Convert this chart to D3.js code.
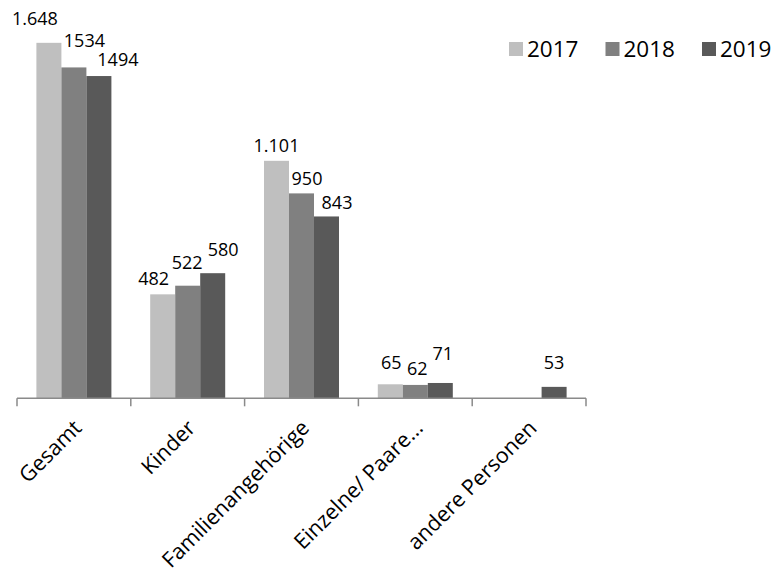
<!DOCTYPE html>
<html>
<head>
<meta charset="utf-8">
<script src="https://cdn.jsdelivr.net/npm/d3@7"></script>
<style>
  html, body { margin: 0; padding: 0; background: #fff; }
  svg text { font-family: "Open Sans", "DejaVu Sans", sans-serif; fill: #000; }
</style>
</head>
<body>
<svg id="chart" width="774" height="578"></svg>
<script>
// Categories along the x axis
const categories = ["Gesamt", "Kinder", "Familienangehörige", "Einzelne/ Paare...", "andere Personen"];
// Series (years)
const years = ["2017", "2018", "2019"];
// Values per year, in category order (null = no bar)
const values2017 = [1648, 482, 1101, 65, null];
const values2018 = [1534, 522, 950, 62, null];
const values2019 = [1494, 580, 843, 71, 53];

const seriesValues = { "2017": values2017, "2018": values2018, "2019": values2019 };
const colors = { "2017": "#bfbfbf", "2018": "#808080", "2019": "#595959" };

// 2017 labels use a dot as thousands separator, the other years are plain
const deLocale = d3.formatLocale({ decimal: ",", thousands: ".", grouping: [3], currency: ["", " €"] });
const labelFormat = { "2017": deLocale.format(",d"), "2018": d3.format("d"), "2019": d3.format("d") };

// Hand-placed nudges for the value labels: [dx, gap above bar top]
const labelNudge = {
  "2017": [[-14, 18], [-9, 9], [0, 9], [1, 15], null],
  "2018": [[10.5, 20.5], [-0.5, 16.5], [5.5, 8], [2, 10], null],
  "2019": [[19, 10.5], [10.5, 17.5], [10.5, 7.5], [2.5, 22.5], [0, 17.5]]
};

const svg = d3.select("#chart");

const baseY = 398.3;
const x = d3.scaleBand().domain(categories).range([17, 586]).paddingInner(0).paddingOuter(0);
const x1 = d3.scaleBand().domain(years).range([0, x.bandwidth()]).paddingInner(0).paddingOuter(0.776);
const y = d3.scaleLinear().domain([0, 1800]).range([baseY, baseY - 1800 * 0.2157]);

// Flatten to bar records
const bars = [];
years.forEach(yr => {
  seriesValues[yr].forEach((v, i) => {
    if (v !== null) bars.push({ year: yr, cat: categories[i], idx: i, value: v });
  });
});

// Bars
svg.append("g").selectAll("rect").data(bars).join("rect")
  .attr("x", d => x(d.cat) + x1(d.year))
  .attr("y", d => y(d.value))
  .attr("width", x1.bandwidth())
  .attr("height", d => y(0) - y(d.value))
  .attr("fill", d => colors[d.year]);

// Value labels
svg.append("g").selectAll("text").data(bars).join("text")
  .attr("x", d => x(d.cat) + x1(d.year) + x1.bandwidth() / 2 + labelNudge[d.year][d.idx][0])
  .attr("y", d => y(d.value) - labelNudge[d.year][d.idx][1])
  .attr("text-anchor", "middle")
  .attr("font-size", 18)
  .text(d => labelFormat[d.year](d.value));

// Category axis with ticks between categories
const axis = svg.append("g").attr("stroke", "#8a8a8a").attr("stroke-width", 1.5).attr("fill", "none");
const [x0, xEnd] = x.range();
axis.append("line").attr("x1", x0).attr("x2", xEnd).attr("y1", baseY).attr("y2", baseY);
const edges = categories.map(c => x(c)).concat([xEnd]);
axis.selectAll(".tick").data(edges).join("line")
  .attr("class", "tick")
  .attr("x1", d => d).attr("x2", d => d)
  .attr("y1", baseY).attr("y2", baseY + 8);

// Rotated category labels
svg.append("g").selectAll("text").data(categories).join("text")
  .attr("transform", c => `translate(${x(c) + x.bandwidth() / 2 + 9},${baseY + 31}) rotate(-45)`)
  .attr("text-anchor", "end")
  .attr("font-size", 21.5)
  .text(c => c);

// Legend
const legend = svg.append("g").selectAll("g").data(years).join("g")
  .attr("transform", (d, i) => `translate(${509 + i * 96.5},42)`);
legend.append("rect").attr("width", 14).attr("height", 14).attr("fill", d => colors[d]);
legend.append("text").attr("x", 18).attr("y", 15).attr("font-size", 22.5).text(d => d);
</script>
</body>
</html>
